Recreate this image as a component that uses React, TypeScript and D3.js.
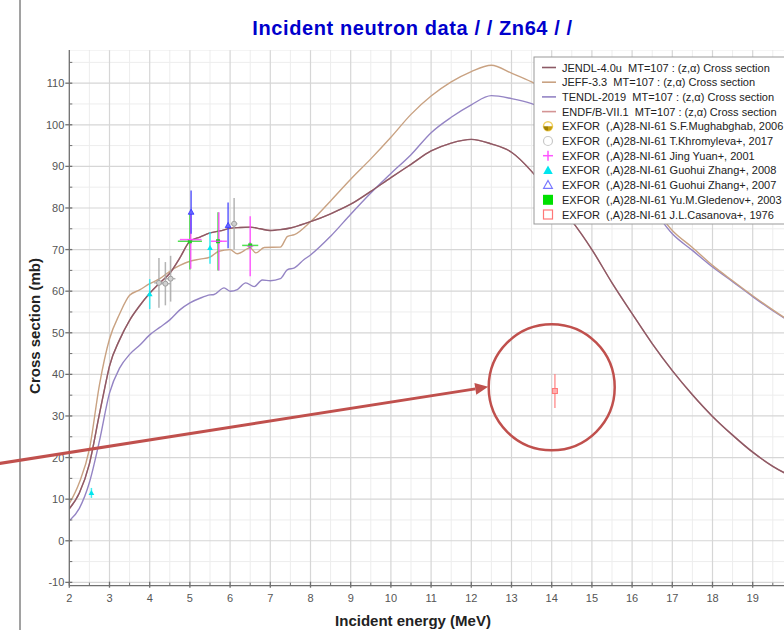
import * as d3 from "d3";

const W = 784;
const H = 630;
const FONT = "Liberation Sans, Arial, sans-serif";

// evaluated curves (MeV, mb)
const jendlE = [2.0, 2.25, 2.5, 2.75, 2.9, 3.0, 3.25, 3.5, 3.75, 4.0, 4.25, 4.5, 4.75, 5.0, 5.25, 5.5, 5.75, 6.0, 6.25, 6.5, 6.75, 7.0, 7.25, 7.5, 7.75, 8.0, 8.5, 9.0, 9.5, 10.0, 10.5, 11.0, 11.5, 12.0, 12.5, 13.0, 13.5, 14.0, 14.5, 15.0, 15.5, 16.0, 16.5, 17.0, 17.5, 18.0, 18.5, 19.0, 19.5, 20.0];
const jendlXS = [7.7, 11.5, 18.5, 30.5, 37.6, 42.0, 48.3, 53.0, 56.5, 59.5, 62.0, 64.3, 68.0, 72.0, 73.0, 74.0, 74.5, 75.1, 75.3, 75.4, 75.0, 74.6, 74.8, 75.2, 75.9, 76.7, 78.6, 80.9, 84.0, 87.3, 90.5, 93.7, 95.6, 96.5, 95.4, 93.4, 88.8, 82.6, 76.9, 70.0, 62.0, 54.6, 47.4, 40.9, 35.1, 29.9, 25.4, 21.3, 17.9, 15.3];

const jeffE = [2.0, 2.25, 2.5, 2.75, 3.0, 3.25, 3.5, 3.75, 4.0, 4.25, 4.5, 4.75, 5.0, 5.25, 5.5, 5.72, 6.0, 6.18, 6.5, 6.64, 6.85, 7.25, 7.43, 7.6, 8.0, 8.5, 9.0, 9.5, 10.0, 10.5, 11.0, 11.5, 12.0, 12.5, 13.0, 13.5, 14.0, 14.5, 15.0, 15.5, 16.0, 16.5, 17.0, 17.5, 18.0, 18.5, 19.0, 19.5, 20.0];
const jeffXS = [8.9, 14.0, 22.0, 37.5, 48.5, 54.5, 59.0, 60.3, 61.8, 63.0, 64.8, 66.2, 67.2, 67.7, 68.2, 69.6, 70.0, 69.0, 70.4, 69.2, 70.5, 70.6, 73.2, 73.6, 76.7, 81.7, 86.9, 91.8, 97.0, 102.5, 106.9, 110.3, 112.8, 114.3, 112.4, 110.3, 107.5, 103.5, 98.5, 93.0, 87.0, 80.8, 74.6, 70.5, 66.2, 62.5, 58.9, 55.5, 52.3];

const tendlE = [2.0, 2.25, 2.5, 2.75, 3.0, 3.25, 3.5, 3.75, 4.0, 4.25, 4.5, 4.75, 5.0, 5.25, 5.5, 5.6, 5.85, 6.0, 6.18, 6.39, 6.6, 6.8, 7.0, 7.25, 7.43, 7.6, 7.84, 8.0, 8.5, 9.0, 9.5, 10.0, 10.5, 11.0, 11.5, 12.0, 12.5, 13.0, 13.5, 14.0, 14.5, 15.0, 15.5, 16.0, 16.5, 17.0, 17.5, 18.0, 18.5, 19.0, 19.5, 20.0];
const tendlXS = [4.8, 7.8, 14.0, 24.0, 35.5, 41.5, 44.8, 47.0, 49.5, 51.3, 53.1, 55.5, 57.2, 58.3, 59.1, 59.2, 60.8, 60.0, 60.4, 62.0, 61.1, 62.7, 62.5, 63.0, 65.2, 65.6, 67.6, 68.7, 73.2, 78.5, 83.6, 88.3, 92.8, 98.1, 101.8, 104.8, 107.0, 106.3, 105.1, 103.0, 100.0, 96.0, 91.5, 86.0, 80.0, 73.8, 69.8, 65.8, 62.3, 58.7, 55.3, 52.3];

const endfE = jendlE;
const endfXS = jendlXS;

// EXFOR points: [energy, xs, dxs, dE]
const mughabghabPts: number[][] = [];
const khromylevaPts = [[4.23, 62.0, 6.0, 0.12], [4.39, 61.8, 5.2, 0.12], [4.52, 63.0, 5.5, 0.12], [6.1, 76.2, 6.2, 0.08]];
const jingYuanPts = [[5.02, 72.4, 7.0, 0.27], [5.72, 72.0, 7.0, 0.2], [6.5, 70.8, 7.2, 0]];
const zhang2008Pts = [[2.55, 11.5, 1.2, 0], [4.0, 59.3, 3.6, 0], [5.5, 70.4, 3.8, 0]];
const zhang2007Pts = [[5.03, 79.0, 5.2, 0], [5.95, 75.8, 5.5, 0]];
const gledenovPts = [[5.0, 72.0, 6.8, 0.3], [5.7, 72.0, 7.0, 0], [6.5, 71.0, 0.8, 0.2]];
const casanovaPts = [[14.08, 36.0, 4.1, 0]];

const curveLabels = [
  "JENDL-4.0u  MT=107 : (z,\u03b1) Cross section",
  "JEFF-3.3  MT=107 : (z,\u03b1) Cross section",
  "TENDL-2019  MT=107 : (z,\u03b1) Cross section",
  "ENDF/B-VII.1  MT=107 : (z,\u03b1) Cross section",
];
const exforLabels = [
  "EXFOR  (,A)28-NI-61 S.F.Mughabghab, 2006",
  "EXFOR  (,A)28-NI-61 T.Khromyleva+, 2017",
  "EXFOR  (,A)28-NI-61 Jing Yuan+, 2001",
  "EXFOR  (,A)28-NI-61 Guohui Zhang+, 2008",
  "EXFOR  (,A)28-NI-61 Guohui Zhang+, 2007",
  "EXFOR  (,A)28-NI-61 Yu.M.Gledenov+, 2003",
  "EXFOR  (,A)28-NI-61 J.L.Casanova+, 1976",
];

const xTicks = d3.range(2, 20, 1);
const yTicks = d3.range(-10, 111, 10);

// annotation in data units: arrow start, arrow tip, circle centre
const arrowFrom = [0.27, 18.6];
const arrowTo = [12.42, 37.0];
const circleAt = [14.0, 36.9];

const CURVE_COLORS = ["#8c5a66", "#c9a282", "#9484c4", "#d49494"];

export default function App() {
  const x = d3.scaleLinear().domain([2, 20]).range([69.3, 792.9]);
  const y = d3.scaleLinear().domain([-10.8, 118]).range([585.7, 49.9]);
  const [x0, x1] = x.range();
  const [y0, y1] = y.range();

  const path = (es: number[], vs: number[]) =>
    d3.line<number>().curve(d3.curveMonotoneX).x((_, i) => x(es[i])).y((_, i) => y(vs[i]))(es) || "";

  const curves = [
    { e: endfE, v: endfXS, c: CURVE_COLORS[3] },
    { e: tendlE, v: tendlXS, c: CURVE_COLORS[2] },
    { e: jeffE, v: jeffXS, c: CURVE_COLORS[1] },
    { e: jendlE, v: jendlXS, c: CURVE_COLORS[0] },
  ];

  const minorX = d3.range(2.5, 20, 1);
  const minorY = d3.range(-5, 118, 10);

  const errBars = (pts: number[][], color: string) =>
    pts.map((p, i) => (
      <g key={i} stroke={color} strokeWidth={1.5} opacity={0.85}>
        <line x1={x(p[0])} x2={x(p[0])} y1={y(p[1] - p[2])} y2={y(p[1] + p[2])} />
        {p[3] > 0 && <line x1={x(p[0] - p[3])} x2={x(p[0] + p[3])} y1={y(p[1])} y2={y(p[1])} />}
      </g>
    ));

  const tri = (cx: number, cy: number, s: number) =>
    `M${cx},${cy - s}L${cx + s * 0.95},${cy + s * 0.7}L${cx - s * 0.95},${cy + s * 0.7}Z`;

  // arrow geometry
  const ax1 = x(arrowFrom[0]);
  const ay1 = y(arrowFrom[1]);
  const ax2 = x(arrowTo[0]);
  const ay2 = y(arrowTo[1]);
  const ang = Math.atan2(ay2 - ay1, ax2 - ax1);
  const headL = 13;
  const headW = 6;
  const bx = ax2 - headL * Math.cos(ang);
  const by = ay2 - headL * Math.sin(ang);
  const head = `M${ax2},${ay2}L${bx + headW * Math.sin(ang)},${by - headW * Math.cos(ang)}L${bx - headW * Math.sin(ang)},${by + headW * Math.cos(ang)}Z`;

  const legX = 534;
  const legY = 57;
  const rowH = 14.7;
  const markerX = 548;

  const legendMarkers = [
    <g key="m0">
      <circle cx={markerX} cy={0} r={4.5} fill="#fff" stroke="#f0d060" strokeWidth={1.5} />
      <path d={`M${markerX - 4.5},0A4.5,4.5 0 0 0 ${markerX},4.5L${markerX},0Z`} fill="#a08000" />
      <path d={`M${markerX},0L${markerX + 4.5},0A4.5,4.5 0 0 1 ${markerX},4.5Z`} fill="#c8a010" />
    </g>,
    <circle key="m1" cx={markerX} cy={0} r={4.5} fill="none" stroke="#c8c8c8" strokeWidth={1.2} />,
    <g key="m2" stroke="#ff55ff" strokeWidth={1.5}>
      <line x1={markerX - 5} x2={markerX + 5} y1={0} y2={0} />
      <line x1={markerX} x2={markerX} y1={-5} y2={5} />
    </g>,
    <path key="m3" d={tri(markerX, 0, 5)} fill="#00e5ee" />,
    <path key="m4" d={tri(markerX, 0, 4.6)} fill="none" stroke="#7777ff" strokeWidth={1.2} />,
    <rect key="m5" x={markerX - 5} y={-5} width={10} height={10} fill="#00e000" />,
    <rect key="m6" x={markerX - 4.5} y={-4.5} width={9} height={9} fill="none" stroke="#ff7777" strokeWidth={1.2} />,
  ];

  return (
    <svg width={W} height={H} style={{ position: "absolute", left: 0, top: 0, background: "#fff" }} fontFamily={FONT}>
      <defs>
        <clipPath id="plot">
          <rect x={x0} y={y1} width={x1 - x0} height={y0 - y1} />
        </clipPath>
      </defs>

      {/* page separator line */}
      <line x1={20} x2={20} y1={0} y2={H} stroke="#444" strokeWidth={1} />

      <text x={412.5} y={35} textAnchor="middle" fontSize={20} fontWeight="bold" fill="#0000cc" letterSpacing={0.6}>
        Incident neutron data / / Zn64 / /
      </text>

      {/* grid */}
      <g clipPath="url(#plot)">
        {minorX.map((t) => (
          <line key={"mx" + t} x1={x(t)} x2={x(t)} y1={y0} y2={y1} stroke="#ededed" />
        ))}
        {minorY.map((t) => (
          <line key={"my" + t} x1={x0} x2={x1} y1={y(t)} y2={y(t)} stroke="#ededed" />
        ))}
        {xTicks.map((t) => (
          <line key={"gx" + t} x1={x(t)} x2={x(t)} y1={y0} y2={y1} stroke="#d6d6d6" strokeWidth={1.2} />
        ))}
        {yTicks.map((t) => (
          <line key={"gy" + t} x1={x0} x2={x1} y1={y(t)} y2={y(t)} stroke="#d6d6d6" strokeWidth={1.2} />
        ))}
        <line x1={x0} x2={x1} y1={y1} y2={y1} stroke="#e4e4e4" />
      </g>

      {/* curves */}
      <g clipPath="url(#plot)" fill="none" strokeWidth={1.4}>
        {curves.map((c, i) => (
          <path key={i} d={path(c.e, c.v)} stroke={c.c} />
        ))}
      </g>

      {/* EXFOR data */}
      <g clipPath="url(#plot)">
        {errBars(khromylevaPts, "#a8a8a8")}
        {khromylevaPts.map((p, i) => (
          <circle key={"k" + i} cx={x(p[0])} cy={y(p[1])} r={2.5} fill="#d0d0d0" stroke="#a0a0a0" />
        ))}
        {errBars(gledenovPts, "#33dd33")}
        {errBars(jingYuanPts, "#ff44ff")}
        {errBars(zhang2008Pts, "#22e8ee")}
        {errBars(zhang2007Pts, "#4444ff")}
        {errBars(casanovaPts, "#ff8888")}
        {errBars(mughabghabPts, "#e0c040")}
        {gledenovPts.map((p, i) => (
          <rect key={"g" + i} x={x(p[0]) - 2} y={y(p[1]) - 2} width={4} height={4} fill="#22cc22" />
        ))}
        {jingYuanPts.map((p, i) => (
          <g key={"j" + i} stroke="#ff44ff" strokeWidth={1.2}>
            <line x1={x(p[0]) - 3} x2={x(p[0]) + 3} y1={y(p[1])} y2={y(p[1])} />
          </g>
        ))}
        {zhang2008Pts.map((p, i) => (
          <path key={"c" + i} d={tri(x(p[0]), y(p[1]), 3)} fill="#00e5ee" />
        ))}
        {zhang2007Pts.map((p, i) => (
          <path key={"b" + i} d={tri(x(p[0]), y(p[1]), 3)} fill="#6666ff" stroke="#3333ff" strokeWidth={0.8} />
        ))}
        {casanovaPts.map((p, i) => (
          <rect key={"r" + i} x={x(p[0]) - 2.5} y={y(p[1]) - 2.5} width={5} height={5} fill="#ffb0b0" stroke="#ff7777" />
        ))}
      </g>

      {/* axes */}
      <g stroke="#707070" strokeWidth={1.3}>
        <line x1={x0} x2={x0} y1={y1} y2={y0} />
        <line x1={x0} x2={x1} y1={y0} y2={y0} />
        {yTicks.map((t) => (
          <line key={"yt" + t} x1={x0 - 4} x2={x0 + 3} y1={y(t)} y2={y(t)} />
        ))}
        {minorY.map((t) => (
          <line key={"ym" + t} x1={x0} x2={x0 + 3} y1={y(t)} y2={y(t)} strokeWidth={1} />
        ))}
        {xTicks.map((t) => (
          <line key={"xt" + t} x1={x(t)} x2={x(t)} y1={y0 - 4} y2={y0 + 2} />
        ))}
        {minorX.map((t) => (
          <line key={"xm" + t} x1={x(t)} x2={x(t)} y1={y0 - 3} y2={y0} strokeWidth={1} />
        ))}
      </g>
      <g fontSize={11} fill="#555">
        {yTicks.map((t) => (
          <text key={"yl" + t} x={x0 - 5} y={y(t) + 4} textAnchor="end">
            {t}
          </text>
        ))}
        {xTicks.map((t) => (
          <text key={"xl" + t} x={x(t)} y={602} textAnchor="middle">
            {t}
          </text>
        ))}
      </g>
      <text x={413} y={626} textAnchor="middle" fontSize={15} fontWeight="bold" fill="#222">
        Incident energy (MeV)
      </text>
      <text transform="translate(40,326) rotate(-90)" textAnchor="middle" fontSize={15} fontWeight="bold" fill="#222">
        Cross section (mb)
      </text>

      {/* legend */}
      <g>
        <rect x={legX} y={legY} width={W - legX + 20} height={224 - legY} fill="#fff" stroke="#999" />
        {curveLabels.map((l, i) => (
          <g key={l} transform={`translate(0,${legY + 10.5 + i * rowH})`}>
            <line x1={542} x2={556} y1={0} y2={0} stroke={CURVE_COLORS[i]} strokeWidth={1.6} />
            <text x={562} y={4} fontSize={11} fill="#222" style={{ whiteSpace: "pre" }}>
              {l}
            </text>
          </g>
        ))}
        {exforLabels.map((l, i) => (
          <g key={l} transform={`translate(0,${legY + 10.5 + (i + 4) * rowH})`}>
            {legendMarkers[i]}
            <text x={562} y={4} fontSize={11} fill="#222" style={{ whiteSpace: "pre" }}>
              {l}
            </text>
          </g>
        ))}
      </g>

      {/* annotation */}
      <g stroke="#c0504d" fill="none">
        <line x1={ax1} y1={ay1} x2={bx} y2={by} strokeWidth={3} />
        <circle cx={x(circleAt[0])} cy={y(circleAt[1])} r={63} strokeWidth={2.5} />
      </g>
      <path d={head} fill="#c0504d" />
    </svg>
  );
}
